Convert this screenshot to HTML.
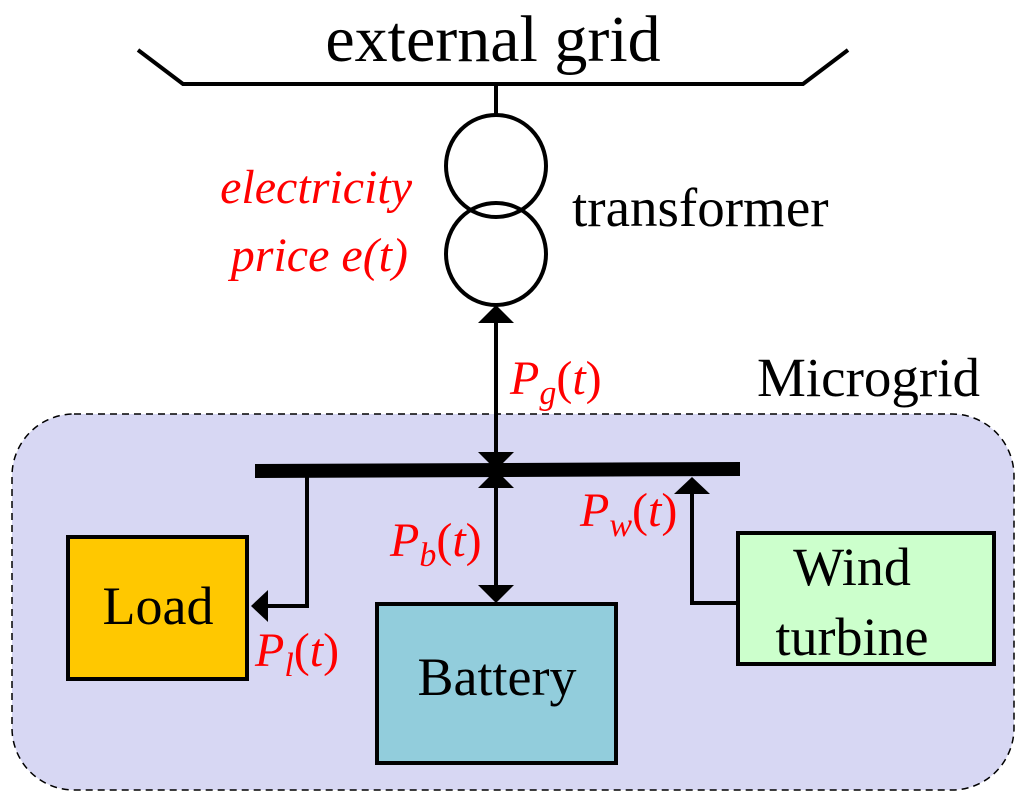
<!DOCTYPE html>
<html><head><meta charset="utf-8"><style>
html,body{margin:0;padding:0;background:#fff;}
svg{display:block;}
text{font-family:"Liberation Serif",serif;}
</style></head><body>
<svg width="1024" height="802" viewBox="0 0 1024 802" xmlns="http://www.w3.org/2000/svg">
<rect x="12" y="414" width="1002" height="376" rx="62" fill="#d7d7f3" stroke="#000" stroke-width="1.5" stroke-dasharray="7,5"/>
<polyline points="138,50 183,84 803,84 848,50" fill="none" stroke="#000" stroke-width="4"/>
<line x1="496" y1="84" x2="496" y2="115" stroke="#000" stroke-width="4"/>
<ellipse cx="496" cy="166" rx="50" ry="51" fill="none" stroke="#000" stroke-width="4"/>
<ellipse cx="496" cy="254" rx="50" ry="51" fill="none" stroke="#000" stroke-width="4"/>
<text x="493" y="61" font-size="66" text-anchor="middle">external grid</text>
<text x="572" y="226" font-size="55">transformer</text>
<text x="412" y="203" font-size="48" fill="#f00" font-style="italic" text-anchor="end">electricity</text>
<text x="408" y="271" font-size="48" fill="#f00" font-style="italic" text-anchor="end">price e(t)</text>
<text x="757" y="396" font-size="55">Microgrid</text>
<polygon points="255,464 740,462 740,476 255,478" fill="#000"/>
<line x1="496" y1="310" x2="496" y2="598" stroke="#000" stroke-width="4"/>
<polygon points="496,305 478,323 514,323" fill="#000"/>
<polygon points="496,470 478,452 514,452" fill="#000"/>
<polygon points="496,470 478,488 514,488" fill="#000"/>
<polygon points="496,603 478,585 514,585" fill="#000"/>
<polyline points="307,476 307,606 262,606" fill="none" stroke="#000" stroke-width="4"/>
<polygon points="251,606 268,590 268,622" fill="#000"/>
<polyline points="692,490 692,603 738,603" fill="none" stroke="#000" stroke-width="4"/>
<polygon points="692,477 674,494 710,494" fill="#000"/>
<rect x="68" y="537" width="179" height="142" fill="#ffc800" stroke="#000" stroke-width="4"/>
<rect x="377" y="604" width="239" height="159" fill="#92cddc" stroke="#000" stroke-width="4"/>
<rect x="738" y="533" width="256" height="131" fill="#ccffcc" stroke="#000" stroke-width="4"/>
<text x="158" y="624" font-size="54" text-anchor="middle">Load</text>
<text x="497" y="695" font-size="54" text-anchor="middle">Battery</text>
<text x="852" y="585" font-size="54" text-anchor="middle">Wind</text>
<text x="852" y="655" font-size="54" text-anchor="middle">turbine</text>
<g fill="#f00" font-size="48">
<text x="510" y="394"><tspan font-style="italic">P</tspan><tspan font-style="italic" font-size="34" dy="10">g</tspan><tspan dy="-10">(</tspan><tspan font-style="italic">t</tspan>)</text>
<text x="390" y="556"><tspan font-style="italic">P</tspan><tspan font-style="italic" font-size="34" dy="10">b</tspan><tspan dy="-10">(</tspan><tspan font-style="italic">t</tspan>)</text>
<text x="580" y="526"><tspan font-style="italic">P</tspan><tspan font-style="italic" font-size="34" dy="10">w</tspan><tspan dy="-10">(</tspan><tspan font-style="italic">t</tspan>)</text>
<text x="255" y="666"><tspan font-style="italic">P</tspan><tspan font-style="italic" font-size="34" dy="10">l</tspan><tspan dy="-10">(</tspan><tspan font-style="italic">t</tspan>)</text>
</g>
</svg>
</body></html>
